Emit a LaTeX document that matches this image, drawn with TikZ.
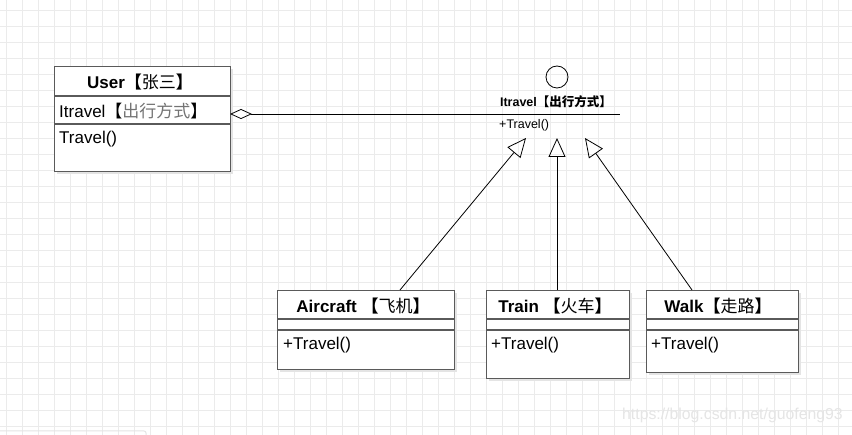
\documentclass[tikz,border=0pt]{standalone}
\usepackage{fontspec}
\setmainfont{Liberation Sans}
\newfontfamily\cjk{Noto Sans CJK SC}
\usetikzlibrary{arrows.meta,calc}
\definecolor{boxline}{HTML}{5A5A5A}
\definecolor{gridc}{HTML}{EBEBEB}
\definecolor{shadowc}{HTML}{E4E4E4}
\tikzset{
  box/.style={draw=boxline, line width=1.4pt, fill=white, anchor=north west, inner sep=0pt},
  shadowbox/.style={fill=shadowc, draw=none, anchor=north west, inner sep=0pt},
  sep/.style={draw=boxline, line width=1.4pt},
  title/.style={font=\fontsize{17}{20}\selectfont\bfseries, inner sep=0pt},
  member/.style={font=\fontsize{17}{20}\selectfont, inner sep=0pt, anchor=west},
  small/.style={font=\fontsize{12.5}{15}\selectfont, inner sep=0pt},
  gen/.style={draw=black, line width=0.8pt, -{Triangle[open,length=19pt,width=17pt,line width=0.8pt]}},
  agg/.style={draw=black, line width=0.8pt, {Diamond[open,length=22pt,width=10pt,line width=0.8pt]}-},
}
\begin{document}
\begin{tikzpicture}[x=1pt,y=-1pt]
\useasboundingbox (0,0) rectangle (852,435);
\fill[white] (0,0) rectangle (852,435);
% grid
\foreach \gx in {6,22,...,852} \draw[gridc, line width=0.8pt] (\gx,0) -- (\gx,435);
\foreach \gy in {10,26,...,435} \draw[gridc, line width=0.8pt] (0,\gy) -- (852,\gy);
% faint panel at bottom left
\draw[shadowc, line width=1pt, rounded corners=2pt] (0,431) -- (146,431) -- (146,436);
% watermark
\node[font=\fontsize{15.8}{18}\selectfont, text=black!10, inner sep=0pt, anchor=west] (wm) at (622,415) {https://blog.csdn.net/guofeng93};

% User class
\node[shadowbox, minimum width=176pt, minimum height=105pt] (usersh) at (57,69) {};
\node[box, minimum width=176pt, minimum height=105pt] (user) at (54,66) {};
\draw[sep] (54,96) -- (230,96);
\draw[sep] (54,124) -- (230,124);
\node[title] (usert) at (140,82) {User\cjk{【\mdseries 张三\bfseries】}};
\node[member] (usera) at (59,111) {Itravel\cjk{【\textcolor{black!55}{出行方式}】}};
\node[member] (userm) at (59,139) {Travel()};

% Interface
\node[draw=black, line width=0.8pt, circle, minimum size=22pt, inner sep=0pt] (ifc) at (557,77) {};
\node[small, font=\fontsize{12.5}{15}\selectfont\bfseries] (ift) at (556,102) {Itravel\cjk{【出行方式】}};
\node[small, anchor=west] (ifm) at (499,125) {+Travel()};
\coordinate (ifR) at (620,114);
\coordinate (userR) at (230,114);
\draw[agg] (userR) -- (ifR);

% Aircraft
\node[shadowbox, minimum width=177pt, minimum height=79pt] at (280,293) {};
\node[box, minimum width=177pt, minimum height=79pt] (air) at (277,290) {};
\draw[sep] (277,319) -- (454,319);
\draw[sep] (277,330) -- (454,330);
\node[title] (airt) at (363,306) {Aircraft \cjk{【\mdseries 飞机\bfseries】}};
\node[member] (airm) at (283,345) {+Travel()};

% Train
\node[shadowbox, minimum width=143pt, minimum height=88pt] at (489,293) {};
\node[box, minimum width=143pt, minimum height=88pt] (train) at (486,290) {};
\draw[sep] (486,319) -- (629,319);
\draw[sep] (486,330) -- (629,330);
\node[title] (traint) at (555,306) {Train \cjk{【\mdseries 火车\bfseries】}};
\node[member] (trainm) at (491,345) {+Travel()};

% Walk
\node[shadowbox, minimum width=152pt, minimum height=82pt] at (649,293) {};
\node[box, minimum width=152pt, minimum height=82pt] (walk) at (646,290) {};
\draw[sep] (646,319) -- (798,319);
\draw[sep] (646,330) -- (798,330);
\node[title] (walkt) at (718,306) {Walk\cjk{【\mdseries 走路\bfseries】}};
\node[member] (walkm) at (651,345) {+Travel()};

% generalizations
\coordinate (tipA) at (526,138);
\coordinate (tipT) at (557,138);
\coordinate (tipW) at (585,138);
\coordinate (startA) at ($(air.north west)+(123,0)$);
\coordinate (startT) at ($(train.north west)+(71,0)$);
\coordinate (startW) at ($(walk.north west)+(46,0)$);
\draw[gen] (startA) -- (tipA);
\draw[gen] (startT) -- (tipT);
\draw[gen] (startW) -- (tipW);
\end{tikzpicture}
\end{document}
